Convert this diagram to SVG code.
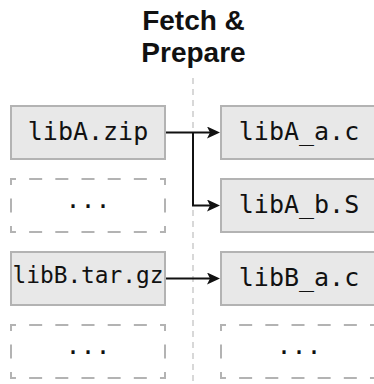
<svg xmlns="http://www.w3.org/2000/svg" width="374" height="384" viewBox="0 0 374 384">
<defs>
<style>
.box{fill:#e8e8e8;stroke:#b3b3b3;stroke-width:2}
.dbox{fill:none;stroke:#b3b3b3;stroke-width:2;stroke-dasharray:5 13.17 13 13.17 13 13.17 13 13.17 13 13.17 13 13.17 11 13.5 14 13.5 11 13.17 13 13.17 13 13.17 13 13.17 13 13.17 13 13.17 11 13.5 14 13.5 6 0}
.code{font-family:"DejaVu Sans Mono","Liberation Mono",monospace;font-size:25px;fill:#111;text-anchor:middle}
.title{font-family:"Liberation Sans",Arial,sans-serif;font-weight:bold;font-size:28px;fill:#111;text-anchor:middle}
.edge{fill:none;stroke:#111;stroke-width:2;marker-end:url(#arr)}
.divider{stroke:#cccccc;stroke-width:1.5;stroke-dasharray:6 5}
</style>
<marker id="arr" markerUnits="userSpaceOnUse" markerWidth="14" markerHeight="13" refX="3" refY="6" orient="auto">
<path d="M0,0 L13,6 L0,12 L3,6 z" fill="#111"/>
</marker>
</defs>
<rect width="374" height="384" fill="#ffffff"/>
<g id="title">
<text class="title" x="193.5" y="30">Fetch &amp;</text>
<text class="title" x="193.5" y="62">Prepare</text>
</g>
<line id="divider" class="divider" x1="193" y1="78" x2="193" y2="384"/>
<g id="libA_zip"><rect class="box" x="11" y="106" width="154" height="53"/><text class="code" x="88" y="140">libA.zip</text></g>
<g id="ellipsis_left_1"><rect class="dbox" x="11" y="179" width="154" height="53"/><text class="code" x="88" y="208">...</text></g>
<g id="libB_tar_gz"><rect class="box" x="11" y="252" width="154" height="53"/><text class="code" x="88" y="283" style="font-size:22.8px">libB.tar.gz</text></g>
<g id="ellipsis_left_2"><rect class="dbox" x="11" y="325" width="154" height="53"/><text class="code" x="88" y="354">...</text></g>
<g id="libA_a_c"><rect class="box" x="221" y="106" width="154" height="53"/><text class="code" x="299" y="140">libA_a.c</text></g>
<g id="libA_b_S"><rect class="box" x="221" y="179" width="154" height="53"/><text class="code" x="299" y="213">libA_b.S</text></g>
<g id="libB_a_c"><rect class="box" x="221" y="252" width="154" height="53"/><text class="code" x="299" y="286">libB_a.c</text></g>
<g id="ellipsis_right"><rect class="dbox" x="221" y="325" width="154" height="53"/><text class="code" x="299" y="354">...</text></g>
<g id="connectors">
<path class="edge" d="M166,132.5 H210"/>
<path class="edge" d="M193,132.5 V205.5 H210"/>
<path class="edge" d="M166,278.5 H210"/>
</g>
</svg>
